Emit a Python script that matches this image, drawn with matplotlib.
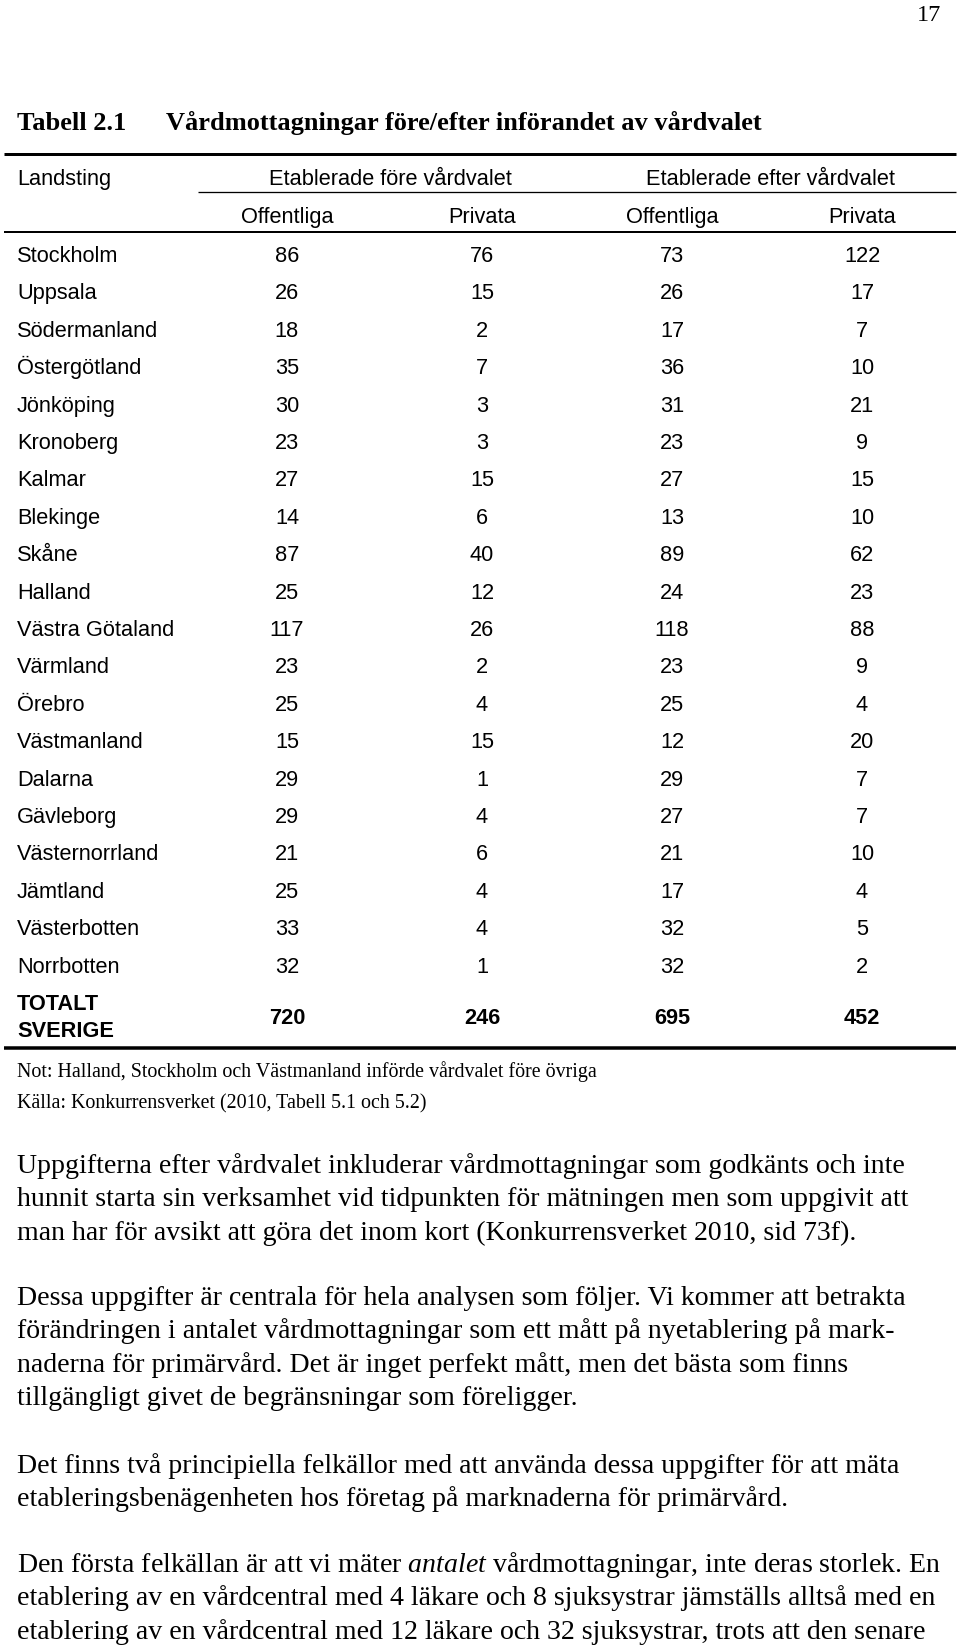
import matplotlib
matplotlib.use("Agg")
import matplotlib.pyplot as plt

plt.rcParams['mathtext.fontset'] = 'custom'
plt.rcParams['mathtext.rm'] = 'Liberation Serif'
plt.rcParams['mathtext.it'] = 'Liberation Serif:italic'

# ---- data ----
landsting = ["Stockholm", "Uppsala", "Södermanland", "Östergötland", "Jönköping",
             "Kronoberg", "Kalmar", "Blekinge", "Skåne", "Halland", "Västra Götaland",
             "Värmland", "Örebro", "Västmanland", "Dalarna", "Gävleborg",
             "Västernorrland", "Jämtland", "Västerbotten", "Norrbotten"]
fore_offentliga = [86, 26, 18, 35, 30, 23, 27, 14, 87, 25, 117, 23, 25, 15, 29, 29, 21, 25, 33, 32]
fore_privata = [76, 15, 2, 7, 3, 3, 15, 6, 40, 12, 26, 2, 4, 15, 1, 4, 6, 4, 4, 1]
efter_offentliga = [73, 26, 17, 36, 31, 23, 27, 13, 89, 24, 118, 23, 25, 12, 29, 27, 21, 17, 32, 32]
efter_privata = [122, 17, 7, 10, 21, 9, 15, 10, 62, 23, 88, 9, 4, 20, 7, 7, 10, 4, 5, 2]
totals = [720, 246, 695, 452]
group_headers = ["Etablerade före vårdvalet", "Etablerade efter vårdvalet"]
sub_headers = ["Offentliga", "Privata", "Offentliga", "Privata"]

page_number = "17"
table_label = "Tabell 2.1"
table_title = "Vårdmottagningar före/efter införandet av vårdvalet"
note_lines = ["Not: Halland, Stockholm och Västmanland införde vårdvalet före övriga",
              "Källa: Konkurrensverket (2010, Tabell 5.1 och 5.2)"]
paragraphs = [
    ["Uppgifterna efter vårdvalet inkluderar vårdmottagningar som godkänts och inte",
     "hunnit starta sin verksamhet vid tidpunkten för mätningen men som uppgivit att",
     "man har för avsikt att göra det inom kort (Konkurrensverket 2010, sid 73f)."],
    ["Dessa uppgifter är centrala för hela analysen som följer. Vi kommer att betrakta",
     "förändringen i antalet vårdmottagningar som ett mått på nyetablering på mark-",
     "naderna för primärvård. Det är inget perfekt mått, men det bästa som finns",
     "tillgängligt givet de begränsningar som föreligger."],
    ["Det finns två principiella felkällor med att använda dessa uppgifter för att mäta",
     "etableringsbenägenheten hos företag på marknaderna för primärvård."],
    ["Den första felkällan är att vi mäter $\\mathit{antalet}$ vårdmottagningar, inte deras storlek. En",
     "etablering av en vårdcentral med 4 läkare och 8 sjuksystrar jämställs alltså med en",
     "etablering av en vårdcentral med 12 läkare och 32 sjuksystrar, trots att den senare"],
]

# ---- layout ----
W, H = 960, 1649
fig = plt.figure(figsize=(W / 100, H / 100), dpi=100)
ax = fig.add_axes([0, 0, 1, 1])
ax.set_xlim(0, W)
ax.set_ylim(H, 0)
ax.axis("off")

SANS = "Liberation Sans"
SERIF = "Liberation Serif"
tfs = 15.7
px = 72 / 100

ax.text(941, 21, page_number, family=SERIF, fontsize=17.5, ha="right", va="baseline")
ax.text(17, 130, table_label, family=SERIF, fontsize=19, weight="bold", ha="left", va="baseline")
ax.text(166, 130, table_title, family=SERIF, fontsize=19, weight="bold", ha="left", va="baseline")

# rules
ax.plot([4, 956], [155, 155], color="black", lw=3 * px, solid_capstyle="butt")
ax.plot([198, 956], [193, 193], color="black", lw=1.3 * px, solid_capstyle="butt")
ax.plot([4, 956], [233, 233], color="black", lw=2 * px, solid_capstyle="butt")
ax.plot([4, 956], [1049, 1049], color="black", lw=3.5 * px, solid_capstyle="butt")

col_x = [287, 482, 672, 862]
group_x = [390, 770]

ax.text(17, 185, "Landsting", family=SANS, fontsize=tfs, ha="left", va="baseline")
for gx, g in zip(group_x, group_headers):
    ax.text(gx, 185, g, family=SANS, fontsize=tfs, ha="center", va="baseline")
for cx, s in zip(col_x, sub_headers):
    ax.text(cx, 223, s, family=SANS, fontsize=tfs, ha="center", va="baseline")

y0, step = 262, 37.4
cols = [fore_offentliga, fore_privata, efter_offentliga, efter_privata]
for i, name in enumerate(landsting):
    y = y0 + i * step
    ax.text(17, y, name, family=SANS, fontsize=tfs, ha="left", va="baseline")
    for cx, col in zip(col_x, cols):
        ax.text(cx, y, str(col[i]), family=SANS, fontsize=tfs, ha="center", va="baseline")

ax.text(17, 1010, "TOTALT", family=SANS, fontsize=tfs, weight="bold", ha="left", va="baseline")
ax.text(17, 1037, "SVERIGE", family=SANS, fontsize=tfs, weight="bold", ha="left", va="baseline")
for cx, t in zip(col_x, totals):
    ax.text(cx, 1024, str(t), family=SANS, fontsize=tfs, weight="bold", ha="center", va="baseline")

for k, line in enumerate(note_lines):
    ax.text(17, 1077 + k * 31, line, family=SERIF, fontsize=14.4, ha="left", va="baseline")

para_start = [1173, 1305, 1473, 1572]
lstep = 33.5
for p0, para in zip(para_start, paragraphs):
    for j, line in enumerate(para):
        ax.text(17, p0 + j * lstep, line, family=SERIF, fontsize=20.1, ha="left", va="baseline")

fig.savefig("out.png", dpi=100)
